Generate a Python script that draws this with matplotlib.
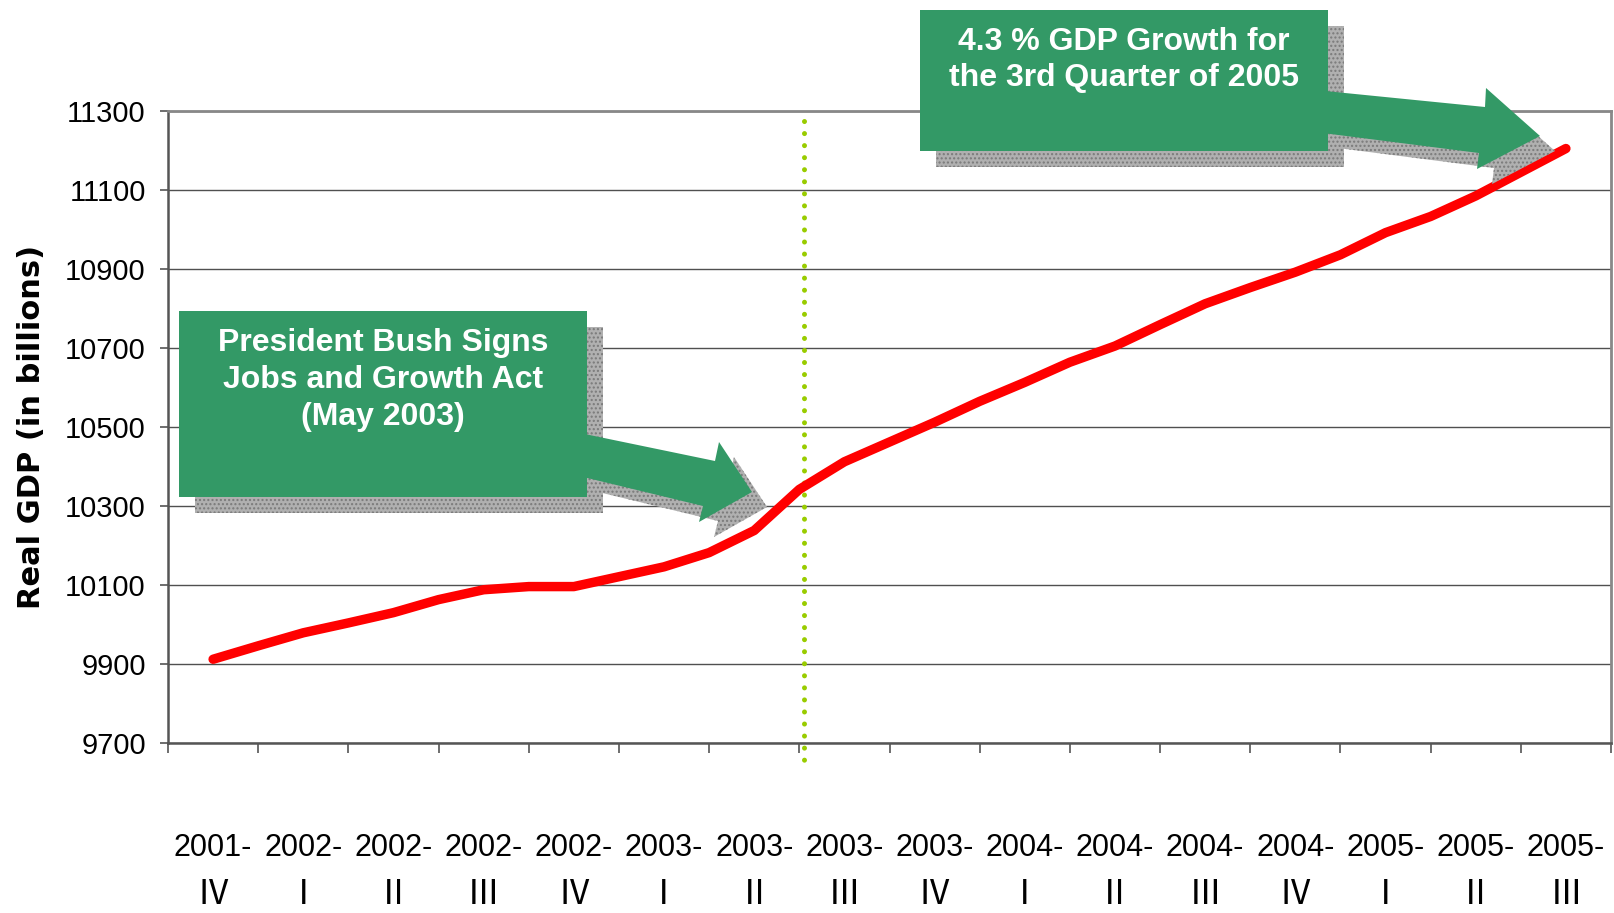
import numpy as np
import matplotlib
matplotlib.use("Agg")
import matplotlib.pyplot as plt
from matplotlib.patches import Polygon, Rectangle
from matplotlib.transforms import Affine2D

# ---------------- data ----------------
years = ['2001', '2002', '2002', '2002', '2002', '2003', '2003', '2003',
         '2003', '2004', '2004', '2004', '2004', '2005', '2005', '2005']
quarters = ['Ⅳ', 'Ⅰ', 'Ⅱ', 'Ⅲ', 'Ⅳ', 'Ⅰ', 'Ⅱ', 'Ⅲ',
            'Ⅳ', 'Ⅰ', 'Ⅱ', 'Ⅲ', 'Ⅳ', 'Ⅰ', 'Ⅱ', 'Ⅲ']
# real GDP, every half quarter
gdp = [9912, 9946, 9979, 10004, 10030, 10063, 10088, 10096, 10096, 10121,
       10146, 10182, 10238, 10342, 10412, 10462, 10512, 10565, 10613, 10664,
       10705, 10759, 10812, 10853, 10892, 10936, 10992, 11033, 11085, 11145,
       11205]
step = 0.5
y_ticks = [9700, 9900, 10100, 10300, 10500, 10700, 10900, 11100, 11300]
event_x = 6.55  # Jobs and Growth Act signed (May 2003)

xfam = ['Liberation Sans', 'Noto Sans CJK JP', 'DejaVu Sans']

W, H = 1614, 913
fig = plt.figure(figsize=(W / 100, H / 100), dpi=100)
ax = fig.add_axes([168 / W, 1 - 743 / H, (1611 - 168) / W, (743 - 111) / H])

x = np.arange(len(gdp)) * step
ax.plot(x, gdp, color='#FF0000', lw=6.8, solid_capstyle='round',
        solid_joinstyle='round', zorder=3)

ax.set_xlim(-0.5, len(years) - 0.5)
ax.set_ylim(y_ticks[0], y_ticks[-1])
ax.set_yticks(y_ticks)
ax.set_yticklabels([str(v) for v in y_ticks], fontsize=21, family='Liberation Sans')
ax.tick_params(axis='y', direction='out', length=6, width=1.2, color='#555555', pad=10)
for v in y_ticks:
    ax.axhline(v, color='#505050', lw=1.0, zorder=1)

centers = np.arange(len(years))
ax.set_xticks(np.arange(len(years) + 1) - 0.5)
ax.set_xticklabels([])
ax.tick_params(axis='x', which='major', direction='out', length=7.5, width=1.2, color='#555555')
ax.set_xticks(centers, minor=True)
ax.set_xticklabels([f"{y}-" for y in years], minor=True)
ax.tick_params(axis='x', which='minor', length=0, pad=65)
for lab in ax.get_xticklabels(minor=True):
    lab.set_family(xfam)
    lab.set_fontsize(22)
for c, q in zip(centers, quarters):
    ax.text(c, (743 - 895) / (743 - 111), q, transform=ax.get_xaxis_transform(),
            ha='center', va='center', fontsize=24, family=xfam, clip_on=False)

for s in ['left', 'bottom']:
    ax.spines[s].set_color('#555555')
    ax.spines[s].set_linewidth(1.8)
for s in ['top', 'right']:
    ax.spines[s].set_color('#888888')
    ax.spines[s].set_linewidth(2.0)

ax.plot([event_x, event_x], [11275, 9650], color='#99CC00', lw=3.6,
        linestyle=(0, (0.01, 2.4)), dash_capstyle='round', clip_on=False, zorder=2)

fig.text(32 / W, 1 - 427 / H, 'Real GDP (in billions)', rotation=90, ha='center',
         va='center', fontsize=22, fontweight='bold', family='DejaVu Sans')

# ---------------- callouts (pixel coords from top-left) ----------------
pix = Affine2D().scale(1 / W, -1 / H).translate(0, 1) + fig.transFigure
green = '#339966'


def callout(box, arrow, text, tx, ty, off=16):
    x0, y0, x1, y1 = box
    sh_box = Rectangle((x0 + off, y0 + off), x1 - x0, y1 - y0, transform=pix,
                       facecolor='#b0b0b0', edgecolor='#7a7a7a', hatch='....',
                       lw=0, zorder=5, clip_on=False)
    sh_arr = Polygon([(px + off - 1, py + off - 1) for px, py in arrow], closed=True,
                     transform=pix, facecolor='#b0b0b0', edgecolor='#7a7a7a',
                     hatch='....', lw=0, zorder=5, clip_on=False)
    ax.add_patch(sh_box)
    ax.add_patch(sh_arr)
    ax.add_patch(Rectangle((x0, y0), x1 - x0, y1 - y0, transform=pix,
                           facecolor=green, edgecolor='none', zorder=6, clip_on=False))
    ax.add_patch(Polygon(arrow, closed=True, transform=pix, facecolor=green,
                         edgecolor='none', zorder=6, clip_on=False))
    fig.text(tx / W, 1 - ty / H, text, ha='center', va='center', color='white',
             fontsize=23, fontweight='bold', family='Liberation Sans',
             linespacing=1.3, zorder=7)


callout((179, 311, 587, 497),
        [(575, 432), (715, 461), (719, 442), (752, 492), (699, 522), (703, 506), (575, 475)],
        'President Bush Signs\nJobs and Growth Act\n(May 2003)', 383, 380)
callout((920, 10, 1328, 151),
        [(1315, 90), (1485, 107), (1486, 88), (1540, 136), (1477, 169), (1479, 153), (1315, 132)],
        '4.3 % GDP Growth for\nthe 3rd Quarter of 2005', 1124, 60)

fig.savefig('out.png', dpi=100)
